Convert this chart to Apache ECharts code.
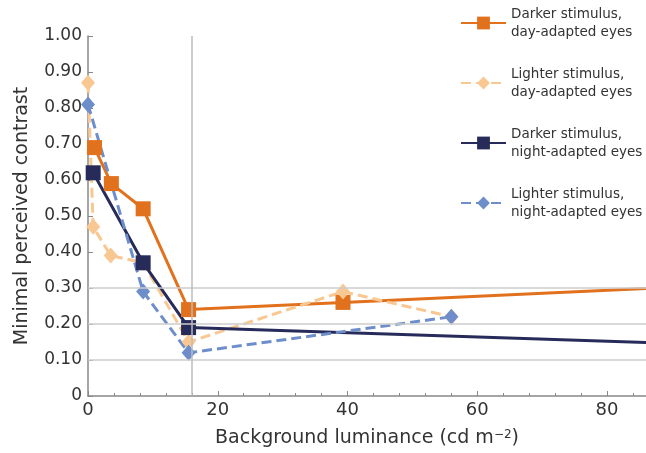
<!DOCTYPE html>
<html>
<head>
<meta charset="utf-8">
<script src="https://cdn.jsdelivr.net/npm/echarts@6/dist/echarts.min.js"></script>
<style>
  html, body { margin: 0; padding: 0; background: #fff; }
  #echart { width: 646px; height: 453px; }
</style>
</head>
<body>
<div id="echart"></div>
<script>
// 数据
var darkDayX = [1, 3.6, 8.5, 15.5, 39.3, 100]
var darkDayY = [0.69, 0.59, 0.52, 0.24, 0.26, 0.31]
var lightDayX = [0, 0.8, 3.5, 8.5, 15.5, 39.3, 56]
var lightDayY = [0.87, 0.47, 0.39, 0.37, 0.15, 0.29, 0.22]
var darkNightX = [0.8, 8.5, 15.5, 100]
var darkNightY = [0.62, 0.37, 0.19, 0.14]
var lightNightX = [0, 8.5, 15.5, 56]
var lightNightY = [0.81, 0.29, 0.12, 0.22]
var seriesNames = [
  'Darker stimulus,\nday-adapted eyes',
  'Lighter stimulus,\nday-adapted eyes',
  'Darker stimulus,\nnight-adapted eyes',
  'Lighter stimulus,\nnight-adapted eyes'
]
var gridY = [0.1, 0.2, 0.3]
var markX = 16

var font = 'DejaVu Sans'

function pairs (xs, ys) {
  return xs.map(function (x, i) { return [x, ys[i]] })
}

function lineSeries (name, data, color, symbol, dashed) {
  return {
    name: name,
    type: 'line',
    data: data,
    z: 3,
    symbol: symbol,
    symbolSize: symbol === 'rect' ? 15 : [14, 16],
    itemStyle: { color: color },
    lineStyle: { color: color, width: 3, type: dashed ? [10, 5] : 'solid' },
    animation: false
  }
}

var myChart = echarts.init(document.getElementById('echart'))
var option = {
  textStyle: { fontFamily: font },
  grid: { left: 88, right: 0, top: 36, bottom: 56 },
  // 图例
  legend: {
    orient: 'vertical',
    left: 460,
    top: -4,
    padding: 0,
    itemWidth: 45,
    itemHeight: 16,
    itemGap: 6,
    selectedMode: false,
    textStyle: {
      fontFamily: font,
      fontSize: 13.5,
      lineHeight: 18,
      color: '#333',
      padding: [18, 0, 0, 0]
    },
    data: seriesNames
  },
  xAxis: {
    type: 'value',
    min: 0,
    max: 86,
    interval: 20,
    name: 'Background luminance (cd m{sup|−2})',
    nameLocation: 'middle',
    nameGap: 33,
    nameTextStyle: {
      fontFamily: font,
      fontSize: 19,
      color: '#333',
      rich: {
        sup: { fontFamily: font, fontSize: 12, color: '#333', verticalAlign: 'top' }
      }
    },
    axisLine: { show: true, lineStyle: { color: '#888', width: 1.5 } },
    axisTick: { show: true, inside: true, length: 5, lineStyle: { color: '#888' } },
    minorTick: { show: true, splitNumber: 5, length: 3, lineStyle: { color: '#888' } },
    axisLabel: { fontFamily: font, fontSize: 18, color: '#333', margin: 5, showMaxLabel: false },
    splitLine: { show: false }
  },
  yAxis: {
    type: 'value',
    min: 0,
    max: 1,
    interval: 0.1,
    name: 'Minimal perceived contrast',
    nameLocation: 'middle',
    nameGap: 56,
    nameTextStyle: { fontFamily: font, fontSize: 19, color: '#333' },
    axisLine: { show: true, lineStyle: { color: '#888', width: 1.5 } },
    axisTick: { show: true, inside: true, length: 5, lineStyle: { color: '#888' } },
    axisLabel: {
      fontFamily: font,
      fontSize: 17,
      color: '#333',
      margin: 6,
      formatter: function (v) { return v === 0 ? '0' : v.toFixed(2) }
    },
    splitLine: { show: false }
  },
  series: [
    // 网格线 only at a few places, so drawn as markLines
    {
      type: 'line',
      data: [],
      z: 1,
      silent: true,
      markLine: {
        silent: true,
        symbol: 'none',
        label: { show: false },
        animation: false,
        data: gridY.map(function (v) {
          return { yAxis: v, lineStyle: { color: '#cdcdcd', width: 1.5, type: 'solid' } }
        }).concat([{ xAxis: markX, lineStyle: { color: '#bdbdbd', width: 1.5, type: 'solid' } }])
      }
    },
    lineSeries(seriesNames[0], pairs(darkDayX, darkDayY), '#e2711d', 'rect', false),
    lineSeries(seriesNames[1], pairs(lightDayX, lightDayY), '#f9c792', 'diamond', true),
    lineSeries(seriesNames[2], pairs(darkNightX, darkNightY), '#262b59', 'rect', false),
    lineSeries(seriesNames[3], pairs(lightNightX, lightNightY), '#6d8ecb', 'diamond', true)
  ],
  animation: false
}
myChart.setOption(option)
</script>
</body>
</html>
